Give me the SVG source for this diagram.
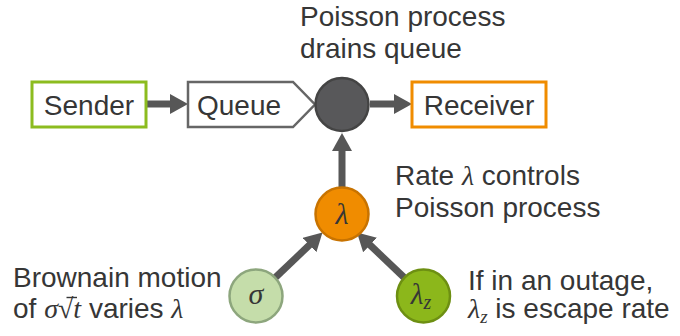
<svg xmlns="http://www.w3.org/2000/svg" width="680" height="336" viewBox="0 0 680 336">
  <defs>
    <marker id="head" markerUnits="userSpaceOnUse" viewBox="0 0 18 20" markerWidth="18" markerHeight="20" refX="6" refY="10" orient="auto">
      <path d="M0,0 L18,10 L0,20 Z" fill="#575757"/>
    </marker>
    <style>
      .lbl { font-family: "Liberation Sans", Arial, sans-serif; font-size: 28px; fill: #363636; }
      .math { font-family: "Liberation Serif", "DejaVu Serif", serif; font-style: italic; }
      .edge { stroke: #575757; stroke-width: 7; fill: none; marker-end: url(#head); }
    </style>
  </defs>
  <rect width="680" height="336" fill="#ffffff"/>

  <!-- connectors -->
  <g id="connectors">
    <line class="edge" x1="147" y1="104" x2="176" y2="104"/>
    <line class="edge" x1="370" y1="104" x2="400" y2="104"/>
    <line class="edge" x1="342" y1="187" x2="342" y2="145"/>
    <line class="edge" x1="275.5" y1="277.4" x2="313.8" y2="240.9"/>
    <line class="edge" x1="404" y1="277.4" x2="365.7" y2="240.9"/>
  </g>

  <g id="sender">
    <rect x="32" y="82" width="114" height="45" fill="#ffffff" stroke="#8cbc1f" stroke-width="3"/>
    <text class="lbl" x="89" y="115" text-anchor="middle">Sender</text>
  </g>

  <g id="queue">
    <path d="M188,82 L293,82 L315,104.5 L293,127 L188,127 Z" fill="#ffffff" stroke="#666666" stroke-width="2.5"/>
    <text class="lbl" x="197" y="115">Queue</text>
  </g>

  <g id="server">
    <circle cx="342" cy="104.5" r="26.5" fill="#58585a" stroke="#444444" stroke-width="2.5"/>
    <text class="lbl" x="300" y="26">Poisson process</text>
    <text class="lbl" x="300" y="58">drains queue</text>
  </g>

  <g id="receiver">
    <rect x="412" y="82" width="134" height="45" fill="#ffffff" stroke="#f08c00" stroke-width="3"/>
    <text class="lbl" x="479" y="115" text-anchor="middle">Receiver</text>
  </g>

  <g id="rate">
    <circle cx="342" cy="214" r="26.5" fill="#f08c00" stroke="#c87300" stroke-width="2.5"/>
    <text class="math" x="342" y="224" font-size="30" fill="#363636" text-anchor="middle">λ</text>
    <text class="lbl" x="395" y="185">Rate <tspan class="math">λ</tspan> controls</text>
    <text class="lbl" x="395" y="217">Poisson process</text>
  </g>

  <g id="sigma">
    <circle cx="256" cy="296" r="26.5" fill="#c5ddaa" stroke="#8da67d" stroke-width="2.5"/>
    <text class="math" x="256" y="304" font-size="30" fill="#363636" text-anchor="middle">σ</text>
    <text class="lbl" x="13" y="287">Brownain motion</text>
    <text class="lbl" x="13" y="318">of <tspan class="math">σ</tspan><tspan font-family="Liberation Serif, DejaVu Serif, serif">√</tspan><tspan class="math">t</tspan> varies <tspan class="math">λ</tspan></text>
    <!-- vinculum of the square root -->
    <line x1="66.5" y1="297.5" x2="77" y2="297.5" stroke="#363636" stroke-width="1.4"/>
  </g>

  <g id="outage">
    <circle cx="423.5" cy="296" r="26.5" fill="#8cb71b" stroke="#6d8f12" stroke-width="2.5"/>
    <text class="math" x="421" y="304" font-size="29" fill="#363636" text-anchor="middle">λ<tspan font-size="20" dy="5">z</tspan></text>
    <text class="lbl" x="468" y="290">If in an outage,</text>
    <text class="lbl" x="468" y="318"><tspan class="math">λ<tspan font-size="19" dy="5">z</tspan></tspan><tspan dy="-5"> is escape rate</tspan></text>
  </g>
</svg>
